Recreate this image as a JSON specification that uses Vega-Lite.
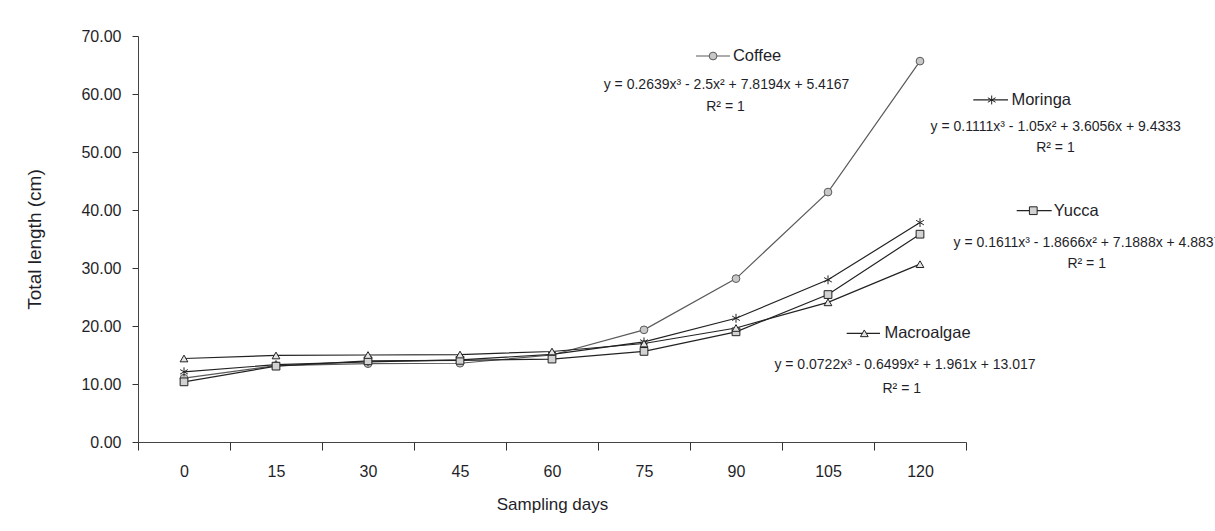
{
  "$schema": "https://vega.github.io/schema/vega-lite/v6.json",
  "width": 828,
  "height": 406,
  "autosize": "none",
  "padding": {"left": 138, "top": 36, "right": 249, "bottom": 89},
  "background": "white",
  "config": {
    "view": {"stroke": null},
    "font": "Liberation Sans",
    "axis": {
      "grid": false,
      "domainColor": "#444",
      "tickColor": "#333",
      "labelColor": "#1f1f2a",
      "titleColor": "#1f1f2a",
      "labelFont": "Liberation Sans",
      "titleFont": "Liberation Sans",
      "titleFontWeight": "normal",
      "labelFontSize": 16,
      "titleFontSize": 17
    },
    "text": {"color": "#1f1f2a", "font": "Liberation Sans"}
  },
  "datasets": {
    "series": [
      {"s": "Coffee", "d": 0, "v": 11.0}, {"s": "Coffee", "d": 15, "v": 13.17}, {"s": "Coffee", "d": 30, "v": 13.5},
      {"s": "Coffee", "d": 45, "v": 13.58}, {"s": "Coffee", "d": 60, "v": 15.0}, {"s": "Coffee", "d": 75, "v": 19.34},
      {"s": "Coffee", "d": 90, "v": 28.17}, {"s": "Coffee", "d": 105, "v": 43.09}, {"s": "Coffee", "d": 120, "v": 65.67},
      {"s": "Moringa", "d": 0, "v": 12.1}, {"s": "Moringa", "d": 15, "v": 13.33}, {"s": "Moringa", "d": 30, "v": 13.8},
      {"s": "Moringa", "d": 45, "v": 14.17}, {"s": "Moringa", "d": 60, "v": 15.1}, {"s": "Moringa", "d": 75, "v": 17.26},
      {"s": "Moringa", "d": 90, "v": 21.33}, {"s": "Moringa", "d": 105, "v": 27.96}, {"s": "Moringa", "d": 120, "v": 37.83},
      {"s": "Yucca", "d": 0, "v": 10.37}, {"s": "Yucca", "d": 15, "v": 13.08}, {"s": "Yucca", "d": 30, "v": 14.0},
      {"s": "Yucca", "d": 45, "v": 14.08}, {"s": "Yucca", "d": 60, "v": 14.3}, {"s": "Yucca", "d": 75, "v": 15.62},
      {"s": "Yucca", "d": 90, "v": 19.0}, {"s": "Yucca", "d": 105, "v": 25.42}, {"s": "Yucca", "d": 120, "v": 35.83},
      {"s": "Macroalgae", "d": 0, "v": 14.4}, {"s": "Macroalgae", "d": 15, "v": 14.92}, {"s": "Macroalgae", "d": 30, "v": 15.0},
      {"s": "Macroalgae", "d": 45, "v": 15.08}, {"s": "Macroalgae", "d": 60, "v": 15.6}, {"s": "Macroalgae", "d": 75, "v": 16.98},
      {"s": "Macroalgae", "d": 90, "v": 19.66}, {"s": "Macroalgae", "d": 105, "v": 24.08}, {"s": "Macroalgae", "d": 120, "v": 30.66}
    ],
    "keys": [
      {"s": "Coffee", "a": 83.48, "b": 89.02, "c": 86.26, "t": 89.5, "v": 66.55},
      {"s": "Moringa", "a": 128.69, "b": 134.35, "c": 131.69, "t": 134.9, "v": 58.97},
      {"s": "Yucca", "a": 135.77, "b": 141.47, "c": 138.47, "t": 141.8, "v": 39.88},
      {"s": "Macroalgae", "a": 108.05, "b": 113.48, "c": 110.92, "t": 114.2, "v": 18.74}
    ],
    "notes": [
      {"t": "y = 0.2639x³ - 2.5x² + 7.8194x + 5.4167", "d": 88.45, "v": 61.55},
      {"t": "R² = 1", "d": 88.29, "v": 57.76},
      {"t": "y = 0.1111x³ - 1.05x² + 3.6056x + 9.4333", "d": 142.13, "v": 54.26},
      {"t": "R² = 1", "d": 142.08, "v": 50.64},
      {"t": "y = 0.1611x³ - 1.8666x² + 7.1888x + 4.8837", "d": 147.31, "v": 34.26},
      {"t": "R² = 1", "d": 147.18, "v": 30.69},
      {"t": "y = 0.0722x³ - 0.6499x² + 1.961x + 13.017", "d": 117.55, "v": 13.28},
      {"t": "R² = 1", "d": 117.02, "v": 9.14}
    ]
  },
  "resolve": {"axis": {"x": "independent"}},
  "layer": [
    {
      "data": {"name": "series"},
      "mark": {"type": "line", "strokeWidth": 1.2},
      "encoding": {
        "x": {
          "field": "d", "type": "quantitative",
          "scale": {"domain": [-7.5, 127.5], "nice": false, "zero": false},
          "axis": {
            "orient": "bottom",
            "values": [0, 15, 30, 45, 60, 75, 90, 105, 120],
            "ticks": false,
            "domain": true,
            "labelPadding": 21,
            "title": "Sampling days",
            "titlePadding": 17
          }
        },
        "y": {
          "field": "v", "type": "quantitative",
          "scale": {"domain": [0, 70], "nice": false, "zero": true},
          "axis": {
            "values": [0, 10, 20, 30, 40, 50, 60, 70],
            "format": ".2f",
            "tickSize": 6,
            "labelPadding": 11,
            "title": "Total length (cm)",
            "titleFont": "Liberation Sans",
            "titleFontSize": 19,
            "titlePadding": 36
          }
        },
        "stroke": {
          "field": "s", "type": "nominal",
          "scale": {"domain": ["Coffee", "Moringa", "Yucca", "Macroalgae"], "range": ["#5a5a5a", "#222222", "#222222", "#222222"]},
          "legend": null
        }
      }
    },
    {
      "data": {"name": "keys"},
      "mark": {"type": "rule", "strokeWidth": 1.2},
      "encoding": {
        "x": {
          "field": "a", "type": "quantitative",
          "axis": {
            "orient": "bottom",
            "values": [-7.5, 7.5, 22.5, 37.5, 52.5, 67.5, 82.5, 97.5, 112.5, 127.5],
            "labels": false,
            "ticks": true,
            "tickSize": 8,
            "domain": false,
            "title": null
          }
        },
        "x2": {"field": "b"},
        "y": {"field": "v", "type": "quantitative"},
        "stroke": {"field": "s", "type": "nominal", "legend": null}
      }
    },
    {
      "data": {"name": "series"},
      "mark": {"type": "point", "filled": true, "size": 60, "strokeWidth": 1, "opacity": 1},
      "encoding": {
        "x": {"field": "d", "type": "quantitative", "axis": null},
        "y": {"field": "v", "type": "quantitative"},
        "shape": {
          "field": "s", "type": "nominal",
          "scale": {"domain": ["Coffee", "Moringa", "Yucca", "Macroalgae"], "range": ["circle", "M0,-1.15L0,1.15M-1,-0.58L1,0.58M-1,0.58L1,-0.58", "square", "triangle-up"]},
          "legend": null
        },
        "fill": {
          "field": "s", "type": "nominal",
          "scale": {"domain": ["Coffee", "Moringa", "Yucca", "Macroalgae"], "range": ["#c8c8c8", "transparent", "#d2d2d2", "#e4e4e4"]},
          "legend": null
        },
        "stroke": {"field": "s", "type": "nominal", "legend": null}
      }
    },
    {
      "data": {"name": "keys"},
      "mark": {"type": "point", "filled": true, "size": 60, "strokeWidth": 1, "opacity": 1},
      "encoding": {
        "x": {"field": "c", "type": "quantitative", "axis": null},
        "y": {"field": "v", "type": "quantitative"},
        "shape": {"field": "s", "type": "nominal", "legend": null},
        "fill": {"field": "s", "type": "nominal", "legend": null},
        "stroke": {"field": "s", "type": "nominal", "legend": null}
      }
    },
    {
      "data": {"name": "keys"},
      "mark": {"type": "text", "align": "left", "baseline": "middle", "fontSize": 16.5},
      "encoding": {
        "x": {"field": "t", "type": "quantitative", "axis": null},
        "y": {"field": "v", "type": "quantitative"},
        "text": {"field": "s"}
      }
    },
    {
      "data": {"name": "notes"},
      "mark": {"type": "text", "align": "center", "baseline": "middle", "fontSize": 14},
      "encoding": {
        "x": {"field": "d", "type": "quantitative", "axis": null},
        "y": {"field": "v", "type": "quantitative"},
        "text": {"field": "t"}
      }
    }
  ]
}
